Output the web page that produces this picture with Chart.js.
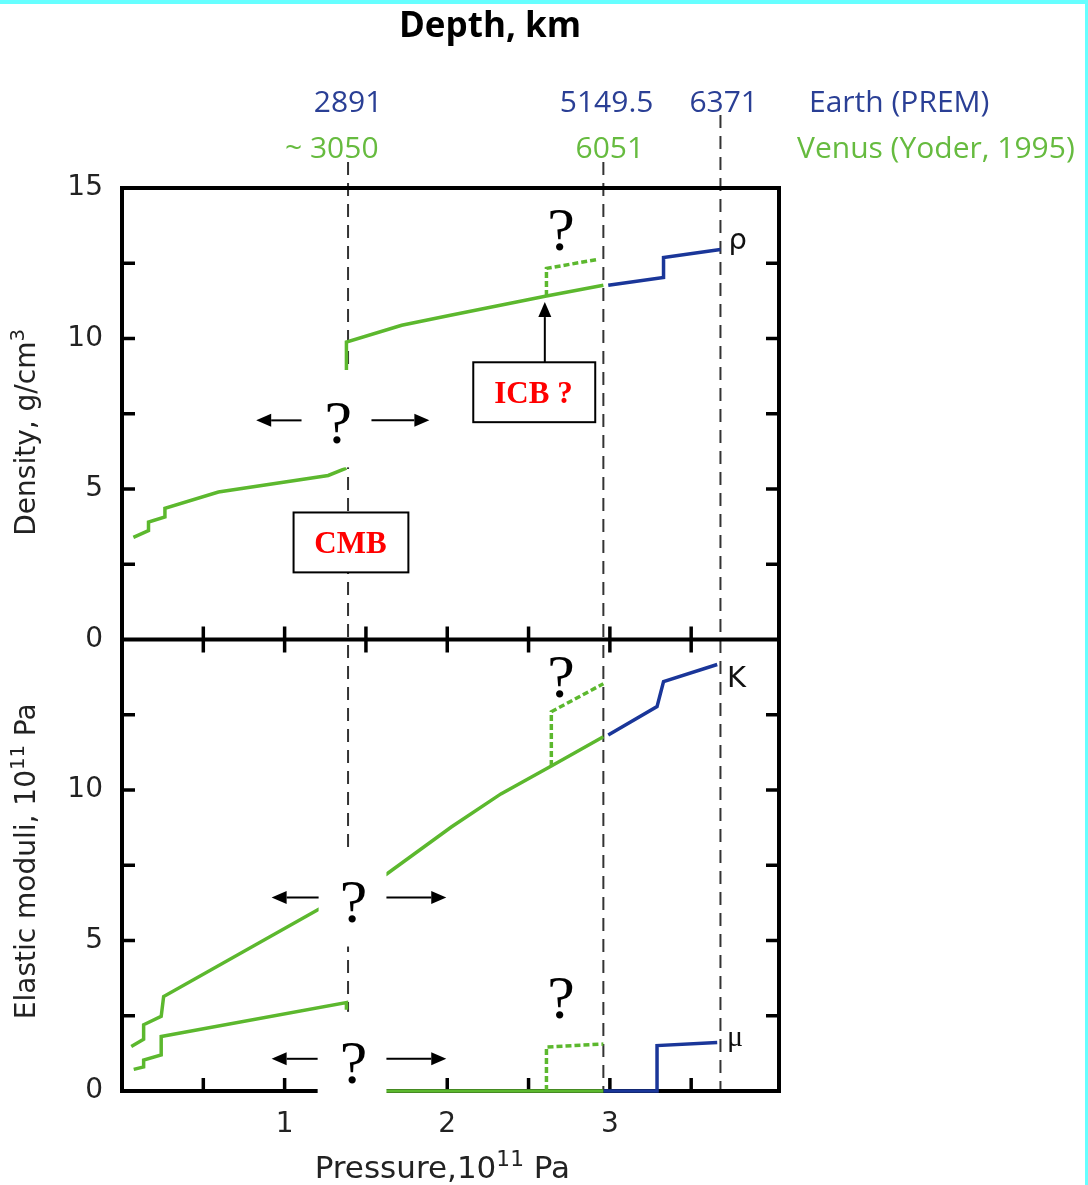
<!DOCTYPE html>
<html>
<head>
<meta charset="utf-8">
<title>Venus vs Earth: density and elastic moduli</title>
<script src="https://cdn.jsdelivr.net/npm/chart.js@4.4.1/dist/chart.umd.min.js"></script>
<style>
  html, body { margin: 0; padding: 0; background: #fff; }
  #wrap { width: 1088px; height: 1185px; }
</style>
</head>
<body>
<div id="wrap"><canvas id="chart" width="1088" height="1185"></canvas></div>
<script>
// Pressure axis, 10^11 Pa
const xTicks = [0.5, 1, 1.5, 2, 2.5, 3, 3.5];
const xLabels = [1, 2, 3];
const yTicks = [2.5, 5, 7.5, 10, 12.5];
const yTopLabels = [0, 5, 10, 15];
const yBotLabels = [0, 5, 10];

// boundaries (CMB, ICB / Venus centre, Earth centre)
const boundaryP = [1.39, 2.96, 3.68];
const earthDepthText = ["2891", "5149.5", "6371"];
const earthDepthP = [1.39, 2.98, 3.70];
const venusDepthText = ["~ 3050", "6051"];
const venusDepthP = [1.29, 3.0];

// Density, g/cm3
const venusMantleP = [0.07, 0.163, 0.163, 0.264, 0.264, 0.593, 1.268, 1.38];
const venusMantleRho = [3.39, 3.62, 3.90, 4.07, 4.36, 4.90, 5.45, 5.69];
const venusCoreP = [1.38, 1.38, 1.72, 2.02, 2.61, 2.96];
const venusCoreRho = [8.95, 9.88, 10.44, 10.77, 11.41, 11.77];
const venusInnerP = [2.61, 2.61, 2.93];
const venusInnerRho = [11.41, 12.33, 12.63];
const earthCoreP = [2.99, 3.33, 3.33, 3.68];
const earthCoreRho = [11.77, 12.03, 12.69, 12.96];

// Bulk modulus K, 10^11 Pa
const venusKP = [0.057, 0.133, 0.133, 0.241, 0.256, 1.207, 1.626, 2.025, 2.33, 2.64, 2.96];
const venusK = [1.48, 1.72, 2.2, 2.48, 3.14, 6.03, 7.2, 8.77, 9.87, 10.8, 11.77];
const venusKInnerP = [2.64, 2.64, 2.96];
const venusKInner = [10.8, 12.6, 13.53];
const earthKP = [2.99, 3.29, 3.33, 3.66];
const earthK = [11.83, 12.77, 13.6, 14.17];

// Shear modulus mu, 10^11 Pa
const venusMuP = [0.072, 0.133, 0.133, 0.241, 0.241, 1.38, 1.38];
const venusMu = [0.72, 0.8, 1.03, 1.2, 1.81, 2.94, 2.7];
const venusMuCoreP = [1.38, 2.96];
const venusMuCore = [0, 0];
const venusMuInnerP = [2.61, 2.61, 2.96];
const venusMuInner = [0, 1.46, 1.56];
const earthMuP = [2.96, 3.29, 3.29, 3.66];
const earthMu = [0, 0, 1.51, 1.61];

const GREEN = "#5cb82e";
const BLUE = "#1a3699";
const SANS = '"DejaVu Sans", Verdana, sans-serif';
const SERIF = '"Liberation Serif", "Times New Roman", serif';
const MYRIAD = '"Open Sans", "Noto Sans", sans-serif';

function seg(ps, vs, axis, color, dashed) {
    return {
        data: ps.map((p, i) => ({ x: p, y: vs[i] })),
        yAxisID: axis,
        borderColor: color,
        borderWidth: 3.5,
        borderDash: dashed ? [6, 3] : [],
        pointRadius: 0,
        tension: 0,
        fill: false,
        clip: 4,
    };
}

// draw text where some parts are superscript
function richText(ctx, parts, x, y, size, font, rotate) {
    ctx.save();
    ctx.translate(x, y);
    if (rotate) ctx.rotate(-Math.PI / 2);
    let total = 0;
    parts.forEach(([t, sup]) => {
        ctx.font = (sup ? size * 0.7 : size) + "px " + font;
        total += ctx.measureText(t).width;
    });
    let cx = -total / 2;
    ctx.textAlign = "left";
    ctx.textBaseline = "alphabetic";
    parts.forEach(([t, sup]) => {
        ctx.font = (sup ? size * 0.7 : size) + "px " + font;
        ctx.fillText(t, cx, sup ? -size * 0.38 : 0);
        cx += ctx.measureText(t).width;
    });
    ctx.restore();
}

function line(ctx, x1, y1, x2, y2) {
    ctx.beginPath();
    ctx.moveTo(x1, y1);
    ctx.lineTo(x2, y2);
    ctx.stroke();
}

function arrow(ctx, x1, y1, x2, y2) {
    const a = Math.atan2(y2 - y1, x2 - x1);
    const L = 15, W = 6.5;
    const bx = x2 - L * Math.cos(a), by = y2 - L * Math.sin(a);
    ctx.lineWidth = 2;
    line(ctx, x1, y1, bx, by);
    ctx.beginPath();
    ctx.moveTo(x2, y2);
    ctx.lineTo(bx + W * Math.sin(a), by - W * Math.cos(a));
    ctx.lineTo(bx - W * Math.sin(a), by + W * Math.cos(a));
    ctx.closePath();
    ctx.fill();
}

// "<- ? ->" notes with white backing (box given in data units)
const gapNotes = [
    { axis: "yTop", box: [1.104, 1.534, 8.95, 5.72], q: [1.33, 6.52], arrowY: 7.28, left: [1.104, 0.825], right: [1.534, 1.89] },
    { axis: "yBot", box: [1.209, 1.626, 8.1, 4.8], q: [1.423, 5.6], arrowY: 6.43, left: [1.209, 0.92], right: [1.626, 1.994] },
    { axis: "yBot", box: [1.203, 1.626, 2.63, -0.17], q: [1.423, 0.27], arrowY: 1.07, left: [1.203, 0.92], right: [1.626, 1.994] },
];
const plainQ = [["yTop", 2.70, 12.94], ["yBot", 2.70, 13.1], ["yBot", 2.70, 2.43]];

const decor = {
    id: "decor",
    beforeDatasetsDraw(chart) {
        const { ctx, chartArea: a, scales } = chart;
        const x = scales.x, yTop = scales.yTop, yBot = scales.yBot;
        ctx.save();
        // dashed boundary lines
        const rise = [26, 26, 73];
        ctx.strokeStyle = "#333";
        ctx.lineWidth = 2;
        ctx.setLineDash([13, 8]);
        boundaryP.forEach((p, i) => {
            const px = x.getPixelForValue(p);
            line(ctx, px, a.top - rise[i], px, a.bottom);
        });
        ctx.setLineDash([]);
        // frame
        ctx.strokeStyle = "#000";
        ctx.lineWidth = 4;
        ctx.strokeRect(a.left, a.top, a.right - a.left, a.bottom - a.top);
        const mid = yTop.bottom;
        line(ctx, a.left - 2, mid, a.right + 2, mid);
        // inward ticks
        const T = 13;
        ctx.lineWidth = 3.5;
        xTicks.forEach(v => {
            const px = x.getPixelForValue(v);
            line(ctx, px, mid, px, mid - T);
            line(ctx, px, mid, px, mid + T);
            line(ctx, px, a.bottom, px, a.bottom - T);
        });
        [yTop, yBot].forEach(s => yTicks.forEach(v => {
            const py = s.getPixelForValue(v);
            line(ctx, a.left, py, a.left + T, py);
            line(ctx, a.right, py, a.right - T, py);
        }));
        ctx.restore();
    },
    afterDatasetsDraw(chart) {
        const { ctx, chartArea: a, scales } = chart;
        const x = scales.x;
        const X = p => x.getPixelForValue(p);
        ctx.save();
        ctx.fillStyle = "#000";
        ctx.strokeStyle = "#000";

        // question marks with arrows
        gapNotes.forEach(n => {
            const s = scales[n.axis];
            const [p0, p1, v0, v1] = n.box;
            ctx.fillStyle = "#fff";
            ctx.fillRect(X(p0), s.getPixelForValue(v0), X(p1) - X(p0), s.getPixelForValue(v1) - s.getPixelForValue(v0));
            ctx.fillStyle = "#000";
            ctx.font = "62px " + SERIF;
            ctx.textAlign = "center";
            ctx.textBaseline = "alphabetic";
            ctx.fillText("?", X(n.q[0]), s.getPixelForValue(n.q[1]));
            const ay = s.getPixelForValue(n.arrowY);
            arrow(ctx, X(n.left[0]), ay, X(n.left[1]), ay);
            arrow(ctx, X(n.right[0]), ay, X(n.right[1]), ay);
        });
        ctx.font = "62px " + SERIF;
        ctx.textAlign = "center";
        plainQ.forEach(([ax, p, v]) => ctx.fillText("?", X(p), scales[ax].getPixelForValue(v)));

        // CMB and ICB boxes
        const yT = scales.yTop;
        const boxes = [
            { text: "CMB", box: [1.055, 1.761, 4.22, 2.23], at: [1.405, 2.86] },
            { text: "ICB ?", box: [2.16, 2.91, 9.21, 7.22], at: [2.53, 7.85] },
        ];
        boxes.forEach(b => {
            const [p0, p1, v0, v1] = b.box;
            const bx = X(p0), by = yT.getPixelForValue(v0);
            const bw = X(p1) - bx, bh = yT.getPixelForValue(v1) - by;
            ctx.fillStyle = "#fff";
            ctx.fillRect(bx, by, bw, bh);
            ctx.lineWidth = 2;
            ctx.strokeStyle = "#000";
            ctx.strokeRect(bx, by, bw, bh);
            ctx.fillStyle = "#ff0000";
            ctx.font = "bold 31px " + SERIF;
            ctx.textAlign = "center";
            ctx.fillText(b.text, X(b.at[0]), yT.getPixelForValue(b.at[1]));
        });
        ctx.fillStyle = "#000";
        arrow(ctx, X(2.60), yT.getPixelForValue(9.21), X(2.60), yT.getPixelForValue(11.21));

        // curve labels
        ctx.textAlign = "left";
        ctx.font = "29px " + SANS;
        ctx.fillStyle = "#111";
        ctx.fillText("\u03c1", X(3.73), yT.getPixelForValue(12.97));
        ctx.fillText("K", X(3.72), scales.yBot.getPixelForValue(13.43));
        ctx.font = "30px " + SERIF;
        ctx.fillText("\u03bc", X(3.72), scales.yBot.getPixelForValue(1.5));

        // depth scale on top
        ctx.textAlign = "center";
        ctx.font = "bold 35px " + MYRIAD;
        ctx.fillStyle = "#000";
        ctx.fillText("Depth, km", 490, a.top - 151);
        ctx.font = "30px " + MYRIAD;
        ctx.fillStyle = "#2a3f95";
        earthDepthText.forEach((t, i) => ctx.fillText(t, X(earthDepthP[i]), a.top - 76));
        ctx.textAlign = "left";
        ctx.fillText("Earth (PREM)", 809, a.top - 76);
        ctx.fillStyle = "#66bb3f";
        ctx.textAlign = "center";
        venusDepthText.forEach((t, i) => ctx.fillText(t, X(venusDepthP[i]), a.top - 30));
        ctx.textAlign = "left";
        ctx.fillText("Venus (Yoder, 1995)", 797, a.top - 30);

        // axis titles
        ctx.fillStyle = "#222";
        richText(ctx, [["Density, g/cm", false], ["3", true]], 35, scales.yTop.getPixelForValue(6.88), 28, SANS, true);
        richText(ctx, [["Elastic moduli, 10", false], ["11", true], [" Pa", false]], 35, scales.yBot.getPixelForValue(7.63), 28, SANS, true);
        richText(ctx, [["Pressure,10", false], ["11", true], [" Pa", false]], X(1.97), a.bottom + 87, 31, SANS, false);

        // page frame
        ctx.fillStyle = "#66ffff";
        ctx.fillRect(0, 0, 1088, 4);
        ctx.fillRect(1085, 0, 3, 1185);
        ctx.restore();
    },
};

const tickFont = { family: SANS, size: 28 };

function yAxis(labels) {
    return {
        type: "linear",
        position: "left",
        stack: "moduli",
        stackWeight: 1,
        min: 0,
        max: 15,
        grid: { display: false, drawTicks: false },
        border: { display: false },
        afterBuildTicks: s => { s.ticks = labels.map(v => ({ value: v })); },
        afterFit: s => { s.width = 122; },
        ticks: { font: tickFont, color: "#222", padding: 19, callback: v => String(v) },
    };
}

const ctx = document.getElementById("chart").getContext("2d");
const chart = new Chart(ctx, {
    type: "line",
    data: {
        datasets: [
            seg(venusMantleP, venusMantleRho, "yTop", GREEN),
            seg(venusCoreP, venusCoreRho, "yTop", GREEN),
            seg(venusInnerP, venusInnerRho, "yTop", GREEN, true),
            seg(earthCoreP, earthCoreRho, "yTop", BLUE),
            seg(venusKP, venusK, "yBot", GREEN),
            seg(venusKInnerP, venusKInner, "yBot", GREEN, true),
            seg(earthKP, earthK, "yBot", BLUE),
            seg(venusMuP, venusMu, "yBot", GREEN),
            seg(venusMuCoreP, venusMuCore, "yBot", GREEN),
            seg(venusMuInnerP, venusMuInner, "yBot", GREEN, true),
            seg(earthMuP, earthMu, "yBot", BLUE),
        ],
    },
    options: {
        responsive: false,
        animation: false,
        events: [],
        layout: { padding: { top: 188, right: 309, left: 0, bottom: 0 } },
        plugins: { legend: { display: false }, tooltip: { enabled: false } },
        scales: {
            x: {
                type: "linear",
                position: "bottom",
                min: 0,
                max: 4.04,
                grid: { display: false, drawTicks: false },
                border: { display: false },
                afterBuildTicks: s => { s.ticks = xLabels.map(v => ({ value: v })); },
                afterFit: s => { s.height = 94; },
                ticks: { font: tickFont, color: "#222", padding: 17, maxRotation: 0, callback: v => String(v) },
            },
            // left boxes are stacked in reverse order, so the lower panel comes first
            yBot: yAxis(yBotLabels),
            yTop: yAxis(yTopLabels),
        },
    },
    plugins: [decor],
});
</script>
</body>
</html>
